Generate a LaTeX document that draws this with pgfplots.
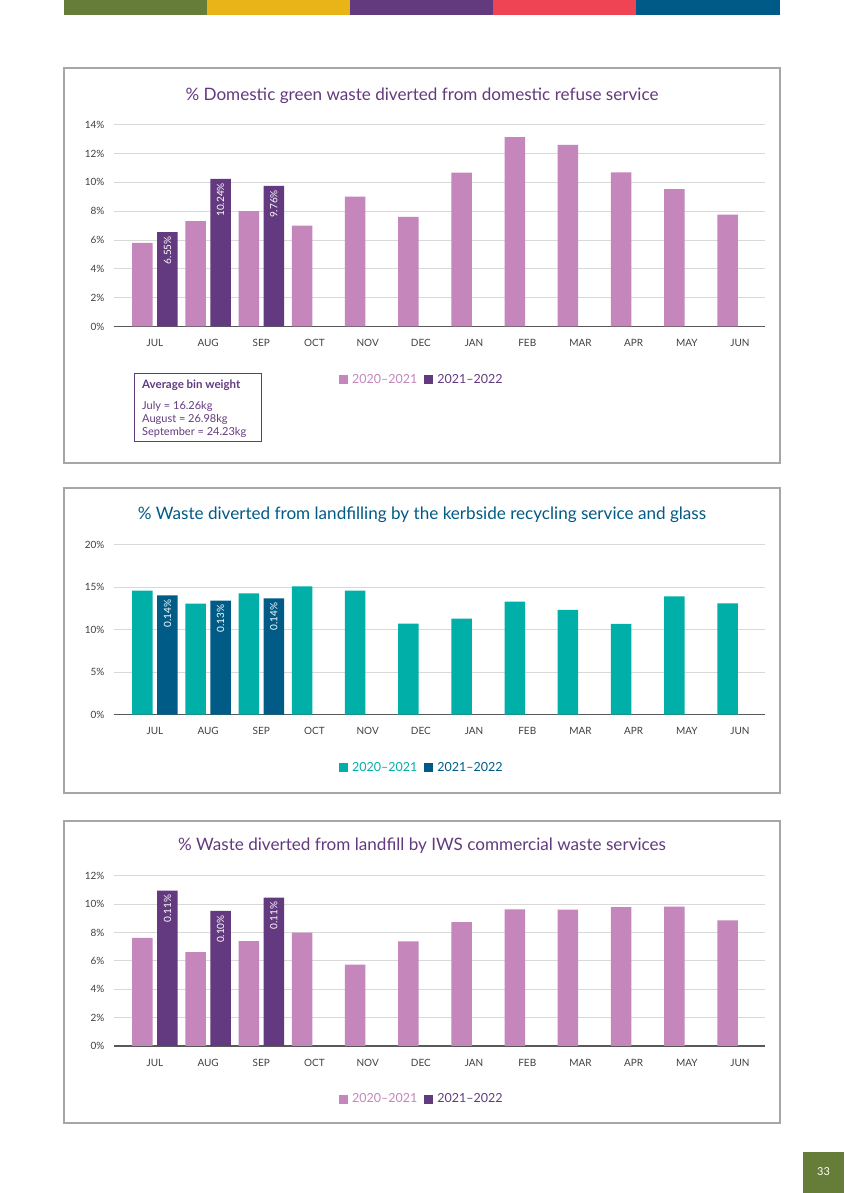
\documentclass[border=0pt]{standalone}
\usepackage{fontspec}
\setmainfont{Lato}
\usepackage{pgfplots}
\usepackage{pgfplotstable}
\pgfplotsset{compat=1.18}
\definecolor{pinkc}{HTML}{C586BC}
\definecolor{purpc}{HTML}{633A7F}
\definecolor{tealc}{HTML}{00B0A8}
\definecolor{bluec}{HTML}{005B86}
\definecolor{gridc}{HTML}{D9D9D9}
\definecolor{axc}{HTML}{595959}
\definecolor{txtc}{HTML}{404040}
\definecolor{framec}{HTML}{A6A6A6}
\definecolor{sgreen}{HTML}{657D38}
\definecolor{syellow}{HTML}{E8B417}
\definecolor{spurple}{HTML}{643A7F}
\definecolor{sred}{HTML}{EF4454}
\definecolor{sblue}{HTML}{005A87}

\pgfplotstableread{
x y
0 5.8
1 7.31
2 8.0
3 7.0
4 9.02
5 7.61
6 10.68
7 13.15
8 12.6
9 10.7
10 9.53
11 7.77
}\greenA
\pgfplotstableread{
x y lab
0 6.55 6.55
1 10.24 10.24
2 9.76 9.76
}\greenB
\pgfplotstableread{
x y
0 14.59
1 13.06
2 14.28
3 15.1
4 14.59
5 10.71
6 11.3
7 13.3
8 12.32
9 10.67
10 13.93
11 13.1
}\kerbA
\pgfplotstableread{
x y lab
0 14.05 0.14
1 13.41 0.13
2 13.69 0.14
}\kerbB
\pgfplotstableread{
x y
0 7.64
1 6.63
2 7.41
3 8.0
4 5.74
5 7.39
6 8.75
7 9.65
8 9.62
9 9.81
10 9.83
11 8.87
}\iwsA
\pgfplotstableread{
x y lab
0 10.96 0.11
1 9.53 0.10
2 10.47 0.11
}\iwsB

\pgfplotsset{
  sq/.style={legend image code/.code={\draw[##1,draw=none] (0pt,-4.5pt) rectangle (9pt,4.5pt);}},
  mybars/.style={scale only axis, anchor=south west, width=651pt,
    xmin=-0.77, xmax=11.47, ymin=0,
    axis x line*=bottom, axis y line*=left,
    y axis line style={draw=none},
    x axis line style={-, draw=axc, line width=1.3pt},
    ymajorgrids, grid style={gridc, line width=1pt},
    major tick length=0pt,
    xtick={0,...,11},
    xticklabels={JUL,AUG,SEP,OCT,NOV,DEC,JAN,FEB,MAR,APR,MAY,JUN},
    tick label style={font=\fontsize{10}{12}\selectfont, text=txtc},
    /pgf/number format/assume math mode=true,
    yticklabel={\pgfmathprintnumber{\tick}\%},
    xticklabel style={yshift=-9.5pt},
    yticklabel style={xshift=-6pt},
    legend columns=2,
    legend style={draw=none, fill=none, anchor=center,
      font=\fontsize{12.5}{14}\selectfont,
      /tikz/every even column/.append style={column sep=5pt}},
  },
  barA/.style={ybar, bar width=20.5pt, bar shift=-12.5pt, draw=none, fill=#1, sq},
  barB/.style={ybar, bar width=20.5pt, bar shift=12.5pt, draw=none, fill=#1, sq,
    nodes near coords={\pgfplotspointmeta\%}, point meta=explicit symbolic,
    nodes near coords style={xshift=12.5pt, rotate=90, anchor=east, text=white,
      font=\fontsize{10}{12}\selectfont, inner sep=4pt}},
}

\begin{document}
\begin{tikzpicture}
\path[use as bounding box, fill=white] (0,0) rectangle (844pt,1193pt);
% top stripe
\fill[sgreen] (64pt,1178pt) rectangle (207pt,1193pt);
\fill[syellow] (207pt,1178pt) rectangle (350pt,1193pt);
\fill[spurple] (350pt,1178pt) rectangle (493pt,1193pt);
\fill[sred] (493pt,1178pt) rectangle (636pt,1193pt);
\fill[sblue] (636pt,1178pt) rectangle (780pt,1193pt);
% frames
\draw[framec, line width=1.3pt] (64pt,730pt) rectangle (780pt,1125pt);
\draw[framec, line width=1.3pt] (64pt,400pt) rectangle (780pt,705pt);
\draw[framec, line width=1.3pt] (64pt,70pt) rectangle (780pt,372pt);
% titles
\node[text=purpc, font=\fontsize{17.1}{20}\selectfont] at (422pt,1097pt) {\% Domestic green waste diverted from domestic refuse service};
\node[text=bluec, font=\fontsize{17.1}{20}\selectfont] at (422pt,678pt) {\% Waste diverted from landfilling by the kerbside recycling service and glass};
\node[text=purpc, font=\fontsize{17.1}{20}\selectfont] at (422pt,347pt) {\% Waste diverted from landfill by IWS commercial waste services};

% chart 1
\begin{axis}[mybars, at={(114pt,866.5pt)}, height=201.7pt, ymax=14, ytick={0,2,...,14},
  legend style={at={(0.473,-0.265)}}]
\addplot[barA=pinkc] table[x=x,y=y] {\greenA};
\addlegendentry{\textcolor{pinkc}{\hspace{2pt}2020–2021}}
\addplot[barB=purpc] table[x=x,y=y,meta=lab] {\greenB};
\addlegendentry{\textcolor{purpc}{\hspace{2pt}2021–2022}}
\end{axis}

% info box
\draw[purpc, line width=0.9pt] (134pt,752pt) rectangle (261pt,820pt);
\node[anchor=west, inner sep=0pt, text=purpc, font=\bfseries\fontsize{11.5}{12}\selectfont] at (142pt,808pt) {Average bin weight};
\node[anchor=west, inner sep=0pt, text=purpc, font=\fontsize{11}{12}\selectfont] at (142pt,787pt) {July = 16.26kg};
\node[anchor=west, inner sep=0pt, text=purpc, font=\fontsize{11}{12}\selectfont] at (142pt,774pt) {August = 26.98kg};
\node[anchor=west, inner sep=0pt, text=purpc, font=\fontsize{11}{12}\selectfont] at (142pt,761pt) {September = 24.23kg};

% chart 2
\begin{axis}[mybars, at={(114pt,478.3pt)}, height=170pt, ymax=20, ytick={0,5,...,20},
  legend style={at={(0.473,-0.3135)}}]
\addplot[barA=tealc] table[x=x,y=y] {\kerbA};
\addlegendentry{\textcolor{tealc}{\hspace{2pt}2020–2021}}
\addplot[barB=bluec] table[x=x,y=y,meta=lab] {\kerbB};
\addlegendentry{\textcolor{bluec}{\hspace{2pt}2021–2022}}
\end{axis}

% chart 3
\begin{axis}[mybars, at={(114pt,147pt)}, height=170pt, ymax=12, ytick={0,2,...,12},
  legend style={at={(0.473,-0.312)}}]
\addplot[barA=pinkc] table[x=x,y=y] {\iwsA};
\addlegendentry{\textcolor{pinkc}{\hspace{2pt}2020–2021}}
\addplot[barB=purpc] table[x=x,y=y,meta=lab] {\iwsB};
\addlegendentry{\textcolor{purpc}{\hspace{2pt}2021–2022}}
\end{axis}

% page number
\fill[sgreen] (803pt,0pt) rectangle (844pt,41pt);
\node[text=white, font=\fontsize{11}{13}\selectfont] at (823.5pt,21pt) {33};
\end{tikzpicture}
\end{document}
